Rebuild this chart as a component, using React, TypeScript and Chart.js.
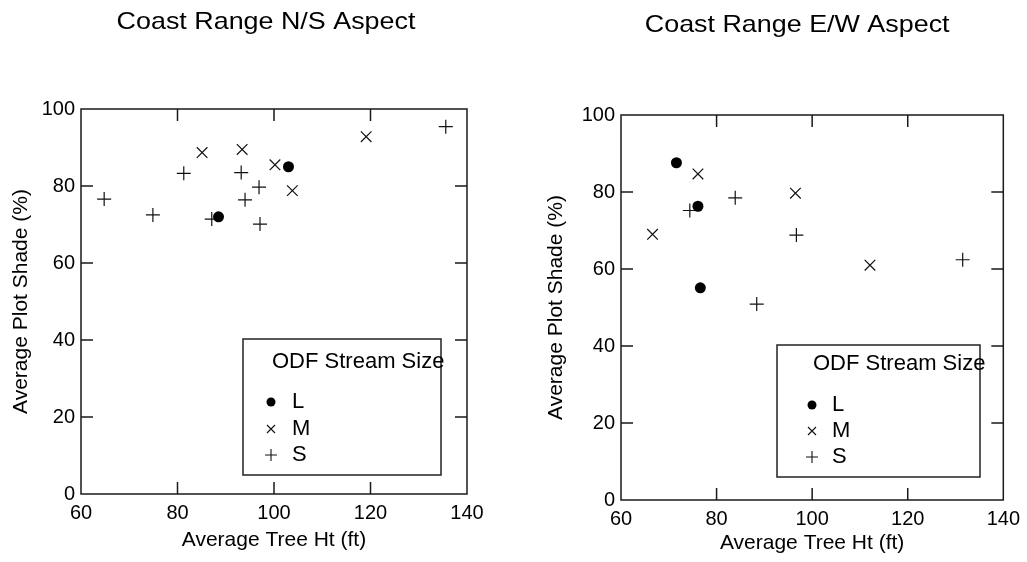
import React, { useEffect, useRef } from 'react';
import { Chart, registerables } from 'chart.js';

Chart.register(...registerables);

const FONT = '"Liberation Sans", Arial, Helvetica, sans-serif';

// ---- data ----
const chartTitles = ['Coast Range N/S Aspect', 'Coast Range E/W Aspect'];
const xAxisTitle = 'Average Tree Ht (ft)';
const yAxisTitle = 'Average Plot Shade (%)';
const legendTitle = 'ODF Stream Size';
const sizeClasses = ['L', 'M', 'S'];
const xTickValues = [60, 80, 100, 120, 140];
const yTickValues = [0, 20, 40, 60, 80, 100];

// Coast Range N/S Aspect
const nsLargeX = [88.5, 103.0];
const nsLargeY = [72.0, 85.0];
const nsMediumX = [85.1, 93.4, 100.2, 103.8, 119.1];
const nsMediumY = [88.7, 89.5, 85.5, 78.8, 92.8];
const nsSmallX = [64.8, 74.9, 81.3, 87.1, 93.2, 94.0, 96.9, 97.1, 135.6];
const nsSmallY = [76.6, 72.5, 83.3, 71.4, 83.5, 76.4, 79.7, 70.1, 95.4];

// Coast Range E/W Aspect
const ewLargeX = [71.6, 76.1, 76.6];
const ewLargeY = [87.6, 76.3, 55.1];
const ewMediumX = [66.6, 76.1, 96.5, 112.1];
const ewMediumY = [69.0, 84.7, 79.7, 61.0];
const ewSmallX = [74.4, 83.9, 88.4, 96.7, 131.5];
const ewSmallY = [75.2, 78.5, 50.9, 68.8, 62.4];

const toPoints = (xs: number[], ys: number[]) => xs.map((x, i) => ({ x, y: ys[i] }));

const MARK = '#111';

function makeDatasets(lx: number[], ly: number[], mx: number[], my: number[], sx: number[], sy: number[]) {
  return [
    {
      label: sizeClasses[0],
      data: toPoints(lx, ly),
      pointStyle: 'circle',
      pointRadius: 5.5,
      backgroundColor: '#000',
      borderColor: '#000',
      borderWidth: 0,
    },
    {
      label: sizeClasses[1],
      data: toPoints(mx, my),
      pointStyle: 'crossRot',
      pointRadius: 7.5,
      backgroundColor: MARK,
      borderColor: MARK,
      borderWidth: 1.2,
    },
    {
      label: sizeClasses[2],
      data: toPoints(sx, sy),
      pointStyle: 'cross',
      pointRadius: 7,
      backgroundColor: MARK,
      borderColor: MARK,
      borderWidth: 1.2,
    },
  ];
}

// ---- plugins ----
const framePlugin = {
  id: 'frameTicks',
  beforeDatasetsDraw(chart: any) {
    const { ctx, chartArea: a, scales } = chart;
    const xs = scales.x;
    const ys = scales.y;
    const L = 12;
    ctx.save();
    ctx.strokeStyle = '#1a1a1a';
    ctx.lineWidth = 1.5;
    ctx.strokeRect(a.left, a.top, a.right - a.left, a.bottom - a.top);
    ctx.beginPath();
    xs.ticks.forEach((t: any) => {
      const px = xs.getPixelForValue(t.value);
      if (px <= a.left + 1 || px >= a.right - 1) return;
      ctx.moveTo(px, a.top);
      ctx.lineTo(px, a.top + L);
      ctx.moveTo(px, a.bottom);
      ctx.lineTo(px, a.bottom - L);
    });
    ys.ticks.forEach((t: any) => {
      const py = ys.getPixelForValue(t.value);
      if (py <= a.top + 1 || py >= a.bottom - 1) return;
      ctx.moveTo(a.left, py);
      ctx.lineTo(a.left + L, py);
      ctx.moveTo(a.right, py);
      ctx.lineTo(a.right - L, py);
    });
    ctx.stroke();
    ctx.restore();
  },
};

const titlePlugin = {
  id: 'panelTitle',
  afterDraw(chart: any, _args: any, opts: any) {
    const { ctx, chartArea: a } = chart;
    const sx = opts.stretch || 1;
    ctx.save();
    ctx.fillStyle = '#000';
    ctx.font = `${opts.size}px ${FONT}`;
    ctx.textAlign = 'center';
    ctx.textBaseline = 'middle';
    const cx = (a.left + a.right) / 2 + (opts.dx || 0);
    ctx.translate(cx, opts.y);
    ctx.scale(sx, 1);
    ctx.fillText(opts.text, 0, 0);
    ctx.restore();
  },
};

const legendPlugin = {
  id: 'legendBox',
  afterDatasetsDraw(chart: any, _args: any, o: any) {
    const { ctx } = chart;
    ctx.save();
    ctx.fillStyle = '#fff';
    ctx.fillRect(o.x, o.y, o.w, o.h);
    ctx.strokeStyle = '#222';
    ctx.lineWidth = 1.5;
    ctx.strokeRect(o.x, o.y, o.w, o.h);
    ctx.fillStyle = '#000';
    ctx.font = `22px ${FONT}`;
    ctx.textAlign = 'left';
    ctx.textBaseline = 'middle';
    ctx.fillText(legendTitle, o.x + o.titleDx, o.y + o.titleDy);
    chart.data.datasets.forEach((ds: any, i: number) => {
      const cy = o.y + o.rows[i];
      const cx = o.x + o.markDx;
      ctx.strokeStyle = MARK;
      ctx.fillStyle = '#000';
      ctx.lineWidth = 1.1;
      if (ds.pointStyle === 'circle') {
        ctx.beginPath();
        ctx.arc(cx, cy, 4.5, 0, Math.PI * 2);
        ctx.fill();
      } else if (ds.pointStyle === 'crossRot') {
        const r = 4;
        ctx.beginPath();
        ctx.moveTo(cx - r, cy - r);
        ctx.lineTo(cx + r, cy + r);
        ctx.moveTo(cx + r, cy - r);
        ctx.lineTo(cx - r, cy + r);
        ctx.stroke();
      } else {
        const r = 6;
        ctx.beginPath();
        ctx.moveTo(cx - r, cy);
        ctx.lineTo(cx + r, cy);
        ctx.moveTo(cx, cy - r);
        ctx.lineTo(cx, cy + r);
        ctx.stroke();
      }
      ctx.fillStyle = '#000';
      ctx.fillText(ds.label, o.x + o.textDx, cy);
    });
    ctx.restore();
  },
};

type PanelCfg = {
  left: number;
  width: number;
  datasets: any[];
  title: string;
  titleY: number;
  titleDx: number;
  padTop: number;
  padRight: number;
  yWidth: number;
  xHeight: number;
  yTitlePad: number;
  xTitlePad: number;
  legend: any;
};

function Panel({ cfg }: { cfg: PanelCfg }) {
  const ref = useRef<HTMLCanvasElement>(null);
  useEffect(() => {
    if (!ref.current) return;
    const tickFont = { family: FONT, size: 20 };
    const chart = new Chart(ref.current, {
      type: 'scatter',
      data: { datasets: cfg.datasets },
      plugins: [framePlugin, titlePlugin, legendPlugin],
      options: {
        responsive: false,
        animation: false,
        layout: { padding: { top: cfg.padTop, right: cfg.padRight, left: 0, bottom: 0 } },
        plugins: {
          legend: { display: false },
          tooltip: { enabled: false },
          panelTitle: { text: cfg.title, y: cfg.titleY, size: 24, stretch: 1.12, dx: cfg.titleDx },
          legendBox: cfg.legend,
        } as any,
        scales: {
          x: {
            type: 'linear',
            min: xTickValues[0],
            max: xTickValues[xTickValues.length - 1],
            afterBuildTicks: (s: any) => {
              s.ticks = xTickValues.map((v) => ({ value: v }));
            },
            afterFit: (s: any) => {
              s.height = cfg.xHeight;
            },
            grid: { display: false, drawTicks: false },
            border: { display: false },
            ticks: { color: '#000', font: tickFont, padding: 7, maxRotation: 0 },
            title: {
              display: true,
              text: xAxisTitle,
              color: '#000',
              font: { family: FONT, size: 21 },
              padding: { top: 0, bottom: cfg.xTitlePad },
            },
          },
          y: {
            type: 'linear',
            min: yTickValues[0],
            max: yTickValues[yTickValues.length - 1],
            afterBuildTicks: (s: any) => {
              s.ticks = yTickValues.map((v) => ({ value: v }));
            },
            afterFit: (s: any) => {
              s.width = cfg.yWidth;
            },
            grid: { display: false, drawTicks: false },
            border: { display: false },
            ticks: { color: '#000', font: tickFont, padding: 6 },
            title: {
              display: true,
              text: yAxisTitle,
              color: '#000',
              font: { family: FONT, size: 21 },
              padding: { top: cfg.yTitlePad, bottom: 0 },
            },
          },
        },
      } as any,
    });
    return () => chart.destroy();
  }, []);
  return (
    <canvas
      ref={ref}
      width={cfg.width}
      height={562}
      style={{ position: 'absolute', left: cfg.left, top: 0, width: cfg.width, height: 562 }}
    />
  );
}

const leftCfg: PanelCfg = {
  left: 0,
  width: 510,
  datasets: makeDatasets(nsLargeX, nsLargeY, nsMediumX, nsMediumY, nsSmallX, nsSmallY),
  title: chartTitles[0],
  titleY: 22,
  titleDx: -8,
  padTop: 109,
  padRight: 43,
  yWidth: 81,
  xHeight: 68,
  yTitlePad: 9,
  xTitlePad: 9,
  legend: { x: 243, y: 339, w: 198, h: 136, titleDx: 29, titleDy: 23, markDx: 28, textDx: 49, rows: [63, 90, 116] },
};

const rightCfg: PanelCfg = {
  left: 510,
  width: 517,
  datasets: makeDatasets(ewLargeX, ewLargeY, ewMediumX, ewMediumY, ewSmallX, ewSmallY),
  title: chartTitles[1],
  titleY: 25,
  titleDx: -15,
  padTop: 115,
  padRight: 22,
  yWidth: 111,
  xHeight: 62,
  yTitlePad: 34,
  xTitlePad: 6,
  legend: { x: 267, y: 345, w: 203, h: 132, titleDx: 36, titleDy: 19, markDx: 35, textDx: 55, rows: [60, 86, 112] },
};

export default function App() {
  return (
    <div style={{ position: 'absolute', left: 0, top: 0, width: 1027, height: 562, background: '#fff' }}>
      <Panel cfg={leftCfg} />
      <Panel cfg={rightCfg} />
    </div>
  );
}
